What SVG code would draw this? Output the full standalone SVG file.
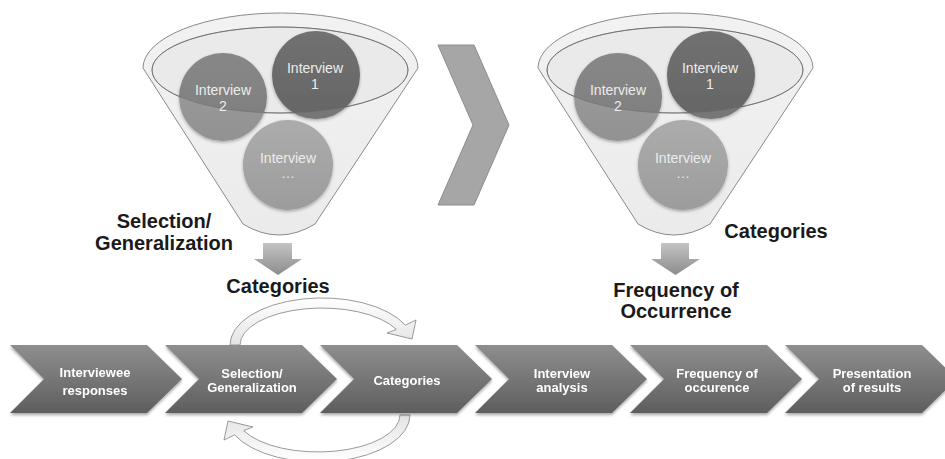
<svg xmlns="http://www.w3.org/2000/svg" width="945" height="459" viewBox="0 0 945 459">
<defs>
  <linearGradient id="chevGrad" x1="0" y1="0" x2="0" y2="1">
    <stop offset="0" stop-color="#8e8e8e"/>
    <stop offset="1" stop-color="#5e5e5e"/>
  </linearGradient>
  <linearGradient id="funnelGrad" x1="0" y1="0" x2="0" y2="1">
    <stop offset="0" stop-color="#f2f2f2"/>
    <stop offset="1" stop-color="#ebebeb"/>
  </linearGradient>
  <linearGradient id="downGrad" x1="0" y1="0" x2="0" y2="1">
    <stop offset="0" stop-color="#c4c4c4"/>
    <stop offset="1" stop-color="#8c8c8c"/>
  </linearGradient>
  <linearGradient id="c1Grad" x1="0" y1="0" x2="0" y2="1">
    <stop offset="0" stop-color="#848484"/>
    <stop offset="1" stop-color="#767676"/>
  </linearGradient>
  <linearGradient id="c2Grad" x1="0" y1="0" x2="0" y2="1">
    <stop offset="0" stop-color="#9e9e9e"/>
    <stop offset="1" stop-color="#929292"/>
  </linearGradient>
  <linearGradient id="c3Grad" x1="0" y1="0" x2="0" y2="1">
    <stop offset="0" stop-color="#acacac"/>
    <stop offset="1" stop-color="#9c9c9c"/>
  </linearGradient>
  <linearGradient id="cycGrad" x1="0" y1="0" x2="0" y2="1">
    <stop offset="0" stop-color="#ffffff"/>
    <stop offset="1" stop-color="#e4e4e4"/>
  </linearGradient>
  <filter id="shadow" x="-10%" y="-10%" width="120%" height="130%">
    <feDropShadow dx="0" dy="2" stdDeviation="1.5" flood-color="#000" flood-opacity="0.35"/>
  </filter>
  <filter id="cshadow" x="-20%" y="-20%" width="140%" height="140%">
    <feDropShadow dx="0" dy="1.5" stdDeviation="1.5" flood-color="#000" flood-opacity="0.3"/>
  </filter>
  <clipPath id="innerClip">
    <ellipse cx="280" cy="70" rx="128" ry="43"/>
  </clipPath>
  <path id="chev" d="M0,0 L137,0 L172,34 L137,68 L0,68 L34,34 Z"/>
  <g id="funnel">
    <path d="M143,68 A137.5,55 0 0 1 418,68 L315,224 Q279,246 243,224 Z" fill="url(#funnelGrad)" stroke="#8a8a8a" stroke-width="1"/>
    <ellipse cx="280" cy="70" rx="128" ry="43" fill="#eaeaea" stroke="#7a7a7a" stroke-width="1"/>
    <g filter="url(#cshadow)">
      <circle cx="316" cy="75" r="44" fill="url(#c1Grad)"/>
      <circle cx="223" cy="97" r="44" fill="url(#c2Grad)"/>
      <circle cx="288" cy="165" r="45" fill="url(#c3Grad)"/>
    </g>
    <g clip-path="url(#innerClip)" fill="#000" fill-opacity="0.14">
      <circle cx="316" cy="75" r="44"/>
      <circle cx="223" cy="97" r="44"/>
    </g>
    <ellipse cx="280" cy="70" rx="128" ry="43" fill="none" stroke="#6a6a6a" stroke-width="0.8" stroke-opacity="0.6"/>
    <g class="ctext">
      <text x="315" y="73">Interview</text>
      <text x="315" y="89">1</text>
      <text x="223" y="95">Interview</text>
      <text x="223" y="111">2</text>
      <text x="288" y="163">Interview</text>
      <text x="288" y="178">…</text>
    </g>
  </g>
  <path id="cyc" d="M230,345 A92,47 0 0 1 405.4,325.1 L416,320 L412,339 L387,333 L396.3,329.4 A82,37 0 0 0 240,345 Z"/>
</defs>
<style>
  .ctext text { font-family: "Liberation Sans", Arial, sans-serif; font-size: 14px; fill: #ececec; text-anchor: middle; }
  .chevtext { font-family: "Liberation Sans", Arial, sans-serif; font-size: 13px; font-weight: bold; fill: #ffffff; text-anchor: middle; }
  .big { font-family: "Liberation Sans", Arial, sans-serif; font-size: 20px; font-weight: bold; fill: #1a1a1a; text-anchor: middle; }
  .chevshape { fill: url(#chevGrad); }
  .cycshape { fill: url(#cycGrad); stroke: #9a9a9a; stroke-width: 1; }
  .down { fill: url(#downGrad); }
</style>

<g id="funnel-left">
  <use href="#funnel"/>
</g>
<g id="funnel-right">
  <use href="#funnel" transform="translate(395,0)"/>
</g>

<g id="big-chevron">
  <path d="M438,45 L474,45 L509,125 L474,205 L438,205 L473,125 Z" fill="#a6a6a6" stroke="#8c8c8c" stroke-width="1"/>
</g>

<g id="label-selection">
  <text class="big" x="164" y="228">Selection/</text>
  <text class="big" x="164" y="250">Generalization</text>
</g>
<g id="label-categories-left">
  <text class="big" x="278" y="293">Categories</text>
</g>
<g id="label-categories-right">
  <text class="big" x="776" y="238">Categories</text>
</g>
<g id="label-frequency">
  <text class="big" x="676" y="297">Frequency of</text>
  <text class="big" x="676" y="318">Occurrence</text>
</g>

<g id="connectors">
  <path class="down" d="M263,243 L292,243 L292,259 L302,259 L278,275 L254,259 L263,259 Z"/>
  <path class="down" d="M661,243 L689,243 L689,259 L700,259 L675.5,275 L651,259 L661,259 Z"/>
  <use href="#cyc" class="cycshape"/>
  <use href="#cyc" class="cycshape" transform="rotate(180 320 380)"/>
</g>

<g id="step1" filter="url(#shadow)">
  <use href="#chev" class="chevshape" transform="translate(10,345)"/>
  <text class="chevtext" x="95" y="377">Interviewee</text>
  <text class="chevtext" x="95" y="395">responses</text>
</g>
<g id="step2" filter="url(#shadow)">
  <use href="#chev" class="chevshape" transform="translate(165,345)"/>
  <text class="chevtext" x="252" y="378">Selection/</text>
  <text class="chevtext" x="252" y="392">Generalization</text>
</g>
<g id="step3" filter="url(#shadow)">
  <use href="#chev" class="chevshape" transform="translate(320,345)"/>
  <text class="chevtext" x="407" y="385">Categories</text>
</g>
<g id="step4" filter="url(#shadow)">
  <use href="#chev" class="chevshape" transform="translate(475,345)"/>
  <text class="chevtext" x="562" y="378">Interview</text>
  <text class="chevtext" x="562" y="392">analysis</text>
</g>
<g id="step5" filter="url(#shadow)">
  <use href="#chev" class="chevshape" transform="translate(630,345)"/>
  <text class="chevtext" x="717" y="378">Frequency of</text>
  <text class="chevtext" x="717" y="392">occurence</text>
</g>
<g id="step6" filter="url(#shadow)">
  <use href="#chev" class="chevshape" transform="translate(785,345)"/>
  <text class="chevtext" x="872" y="378">Presentation</text>
  <text class="chevtext" x="872" y="392">of results</text>
</g>
</svg>
